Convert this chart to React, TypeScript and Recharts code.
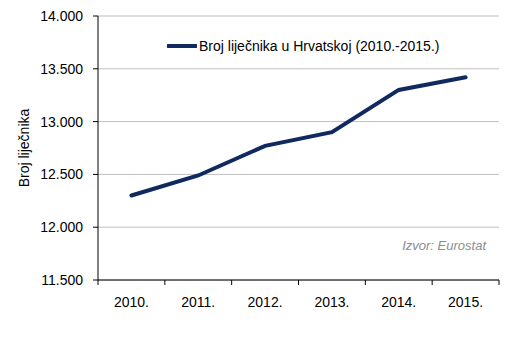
import React from 'react';
import { LineChart, Line, XAxis, YAxis, CartesianGrid, Legend, Customized } from 'recharts';

const years = ['2010.', '2011.', '2012.', '2013.', '2014.', '2015.'];
const doctors = [12300, 12490, 12770, 12900, 13300, 13420];
const yTicks = [11500, 12000, 12500, 13000, 13500, 14000];

const data = years.map((year, i) => ({ year, value: doctors[i] }));

const W = 528;
const H = 339;
const PLOT_LEFT = 98;
const PLOT_RIGHT = 499;
const PLOT_TOP = 16;
const PLOT_BOTTOM = 280;
const BAND = (PLOT_RIGHT - PLOT_LEFT) / years.length;
const FONT = '"Liberation Sans", Arial, sans-serif';
const NAVY = '#10295e';

const fmt = (v: number) => `${Math.floor(v / 1000)}.${String(v % 1000).padStart(3, '0')}`;

const XTick = (props: any) => {
  const { x, payload, index } = props;
  const left = x - BAND / 2;
  return (
    <g>
      <line x1={left} x2={left} y1={PLOT_BOTTOM} y2={PLOT_BOTTOM + 5} stroke="#000" />
      {index === years.length - 1 && (
        <line x1={x + BAND / 2} x2={x + BAND / 2} y1={PLOT_BOTTOM} y2={PLOT_BOTTOM + 5} stroke="#000" />
      )}
      <text x={x} y={PLOT_BOTTOM + 27} textAnchor="middle" fontSize={14} fontFamily={FONT} fill="#000">
        {payload.value}
      </text>
    </g>
  );
};

const LegendBox = () => (
  <div style={{ display: 'flex', alignItems: 'center', fontFamily: FONT, fontSize: 14, color: '#000', whiteSpace: 'nowrap' }}>
    <svg width={30} height={10} style={{ marginRight: 2 }}>
      <line x1={1} x2={29} y1={5} y2={5} stroke={NAVY} strokeWidth={4} strokeLinecap="round" />
    </svg>
    <span>Broj liječnika u Hrvatskoj (2010.-2015.)</span>
  </div>
);

const Source = () => (
  <text x={486} y={250} textAnchor="end" fontSize={13} fontStyle="italic" fontFamily={FONT} fill="#8c8c8c">
    Izvor: Eurostat
  </text>
);

export default function App() {
  return (
    <div style={{ position: 'absolute', left: 0, top: 0, width: W, height: H, background: '#fff' }}>
      <LineChart
        width={W}
        height={H}
        data={data}
        margin={{ top: PLOT_TOP, right: W - PLOT_RIGHT, bottom: 0, left: 0 }}
      >
        <CartesianGrid vertical={false} stroke="#bfbfbf" />
        <XAxis
          dataKey="year"
          height={H - PLOT_BOTTOM}
          padding={{ left: BAND / 2, right: BAND / 2 }}
          tickLine={false}
          axisLine={{ stroke: '#000' }}
          tick={<XTick />}
          interval={0}
        />
        <YAxis
          width={PLOT_LEFT}
          domain={[11500, 14000]}
          ticks={yTicks}
          tickFormatter={fmt}
          tickSize={5}
          tickMargin={10}
          axisLine={{ stroke: '#000' }}
          tickLine={{ stroke: '#000' }}
          tick={{ fontSize: 14, fontFamily: FONT, fill: '#000' }}
          label={{
            value: 'Broj liječnika',
            angle: -90,
            position: 'insideLeft',
            offset: 24,
            style: { fontSize: 14, fontFamily: FONT, fill: '#000', textAnchor: 'middle' },
          }}
        />
        <Legend
          layout="vertical"
          align="center"
          verticalAlign="middle"
          content={<LegendBox />}
          wrapperStyle={{ position: 'absolute', left: 167, top: 38, width: 300 }}
        />
        <Line
          type="linear"
          dataKey="value"
          name="Broj liječnika u Hrvatskoj (2010.-2015.)"
          stroke={NAVY}
          strokeWidth={4}
          strokeLinecap="round"
          dot={false}
          activeDot={false}
          isAnimationActive={false}
        />
        <Customized component={<Source />} />
      </LineChart>
    </div>
  );
}
